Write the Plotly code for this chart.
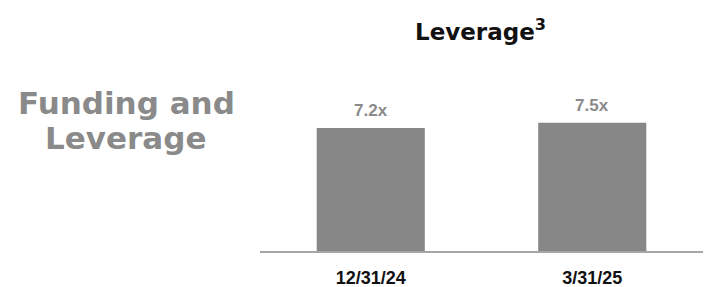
import plotly.graph_objects as go

categories = ["12/31/24", "3/31/25"]
leverage = [7.2, 7.5]
value_labels = ["7.2x", "7.5x"]

W, H = 704, 287
ml, mr, mt, mb = 260, 1, 80, 36
pw, ph = W - ml - mr, H - mt - mb

def px_ann(text, x, y, size, color, family):
    return dict(text=text, x=(x - ml) / pw, y=(H - mb - y) / ph,
                xref="paper", yref="paper", xanchor="center", yanchor="middle",
                showarrow=False, font=dict(family=family, size=size, color=color))

fig = go.Figure()
fig.add_trace(go.Bar(
    x=categories, y=leverage,
    marker=dict(color="#878787", line=dict(width=0)),
    width=0.488, cliponaxis=False, hoverinfo="skip",
))

anns = []
for c, v, t in zip(categories, leverage, value_labels):
    anns.append(dict(text="<b>%s</b>" % t, x=c, y=v, xref="x", yref="y",
                     xanchor="center", yanchor="bottom", yshift=6, showarrow=False,
                     font=dict(family="Liberation Sans, Arial, sans-serif", size=17, color="#8a8a8a")))

anns.append(px_ann("<b>Leverage<sup>3</sup></b>", 480, 30, 23, "#111111", "DejaVu Sans, sans-serif"))
anns.append(px_ann("<b>Funding and</b>", 126, 103, 31, "#8a8a8a", "DejaVu Sans, sans-serif"))
anns.append(px_ann("<b>Leverage</b>", 125, 138, 31, "#8a8a8a", "DejaVu Sans, sans-serif"))

fig.update_layout(
    width=W, height=H,
    margin=dict(l=ml, r=mr, t=mt, b=mb, autoexpand=False),
    paper_bgcolor="white", plot_bgcolor="white",
    showlegend=False,
    xaxis=dict(
        type="category", range=[-0.5, 1.5],
        showline=True, linecolor="#a6a6a6", linewidth=2,
        showgrid=False, ticks="",
        tickfont=dict(family="Liberation Sans, Arial, sans-serif", size=18, color="#111111"),
        ticklabelstandoff=9,
        tickprefix="<b>", ticksuffix="</b>",
    ),
    yaxis=dict(range=[0, 10], visible=False, showgrid=False, zeroline=False),
    annotations=anns,
)

fig.write_html("out.html", config={"displayModeBar": False})

with open("out.html", encoding="utf-8") as f:
    html = f.read()
html = html.replace("<head>", "<head><style>html,body{margin:0;padding:0;overflow:hidden;}</style>", 1)
with open("out.html", "w", encoding="utf-8") as f:
    f.write(html)
